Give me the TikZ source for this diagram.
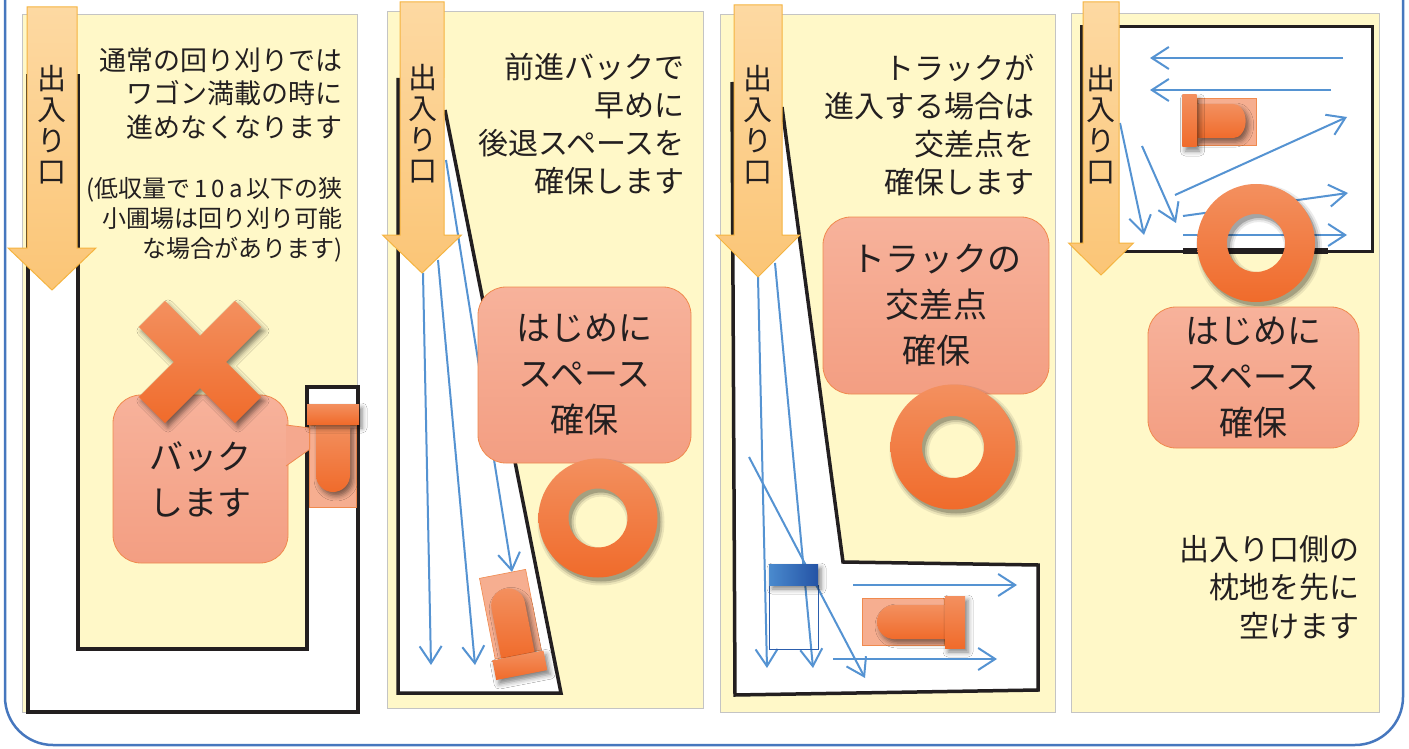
\documentclass[tikz,border=0pt]{standalone}
\usepackage{fontspec}
\setmainfont{Noto Sans CJK JP}
\usetikzlibrary{arrows.meta,shadows.blur}

\definecolor{ink}{HTML}{231F20}
\definecolor{fieldbg}{HTML}{FFF8C8}
\definecolor{panelline}{HTML}{C4C4C4}
\definecolor{frameblue}{HTML}{4677BE}
\definecolor{routeblue}{HTML}{5593D2}
\definecolor{gatetop}{HTML}{FDD9A2}
\definecolor{gatebot}{HTML}{FBC576}
\definecolor{gateline}{HTML}{F5B440}
\definecolor{marktop}{HTML}{F3905F}
\definecolor{markbot}{HTML}{F06B2B}
\definecolor{bubtop}{HTML}{F7B29B}
\definecolor{bubbot}{HTML}{F39E82}
\definecolor{bubline}{HTML}{F08A4E}
\definecolor{glassfill}{HTML}{F5A07D}
\definecolor{cableft}{HTML}{4A8ACE}
\definecolor{cabright}{HTML}{2453A5}

\tikzset{
  badge/.style={top color=marktop, bottom color=markbot,
    blur shadow={shadow xshift=3pt, shadow yshift=-4pt, shadow blur radius=5pt, shadow opacity=50}},
  gatearrow/.style={draw=gateline, line width=1pt, top color=gatetop, bottom color=gatebot},
  % combine harvester seen from above, header pointing up
  pics/combine/.style={code={
    \path[fill=glassfill, draw=bubline, line width=.6pt, fill opacity=.85] (-24,-30) rectangle (23,52);
    \path[badge] (-17,-31) -- (-17,20) arc[start angle=180, end angle=360, radius=17pt] -- (17,-31) -- cycle;
    \path[badge] (-26,-51) rectangle (26,-31);
  }},
  % orange ring with a soft shadow: outer radius, inner radius
  pics/ring/.style 2 args={code={
    \foreach \d/\o in {4/.08, 2/.12, 0/.2}
      \fill[black, opacity=\o, even odd rule] (3,4) circle[radius=#1+\d] (3,4) circle[radius=#2-\d];
    \path[top color=marktop, bottom color=markbot, even odd rule] (0,0) circle[radius=#1] (0,0) circle[radius=#2];
  }},
  % block arrow for the field entrance: half shaft, half head, shaft end, tip
  pics/entry/.style n args={4}{code={
    \path[gatearrow] (-#1,0) -- (-#1,#3) -- (-#2,#3) -- (0,#4) -- (#2,#3) -- (#1,#3) -- (#1,0) -- cycle;
  }}
}

\begin{document}
\begin{tikzpicture}[
  x=1pt, y=-1pt,
  panel/.style={fill=fieldbg, draw=panelline, line width=1pt},
  field/.style={draw=ink, line width=3.5pt, line join=miter},
  route/.style={draw=routeblue, line width=2pt, -{Straight Barb[length=17pt, width=22pt]}},
  note/.style={font=\fontsize{30}{38.3}\selectfont, text=ink, align=right, anchor=east, inner sep=0pt},
  bubble/.style={draw=bubline, line width=.8pt, top color=bubtop, bottom color=bubbot, rounded corners=28pt,
    text=ink, align=center, font=\fontsize{34}{46}\selectfont, inner sep=0pt},
  gate/.style={text=ink, align=center, font=\fontsize{29}{31}\selectfont, inner sep=0pt}
]
\path[use as bounding box, clip] (0,0) rectangle (1409,749);
\fill[white] (0,0) rectangle (1409,749);
\draw[frameblue, line width=2.5pt, rounded corners=48pt] (5,-60) rectangle (1403,745);

% four panels
\path[panel] (22,15) rectangle (357,712);
\path[panel] (387,12) rectangle (703,708);
\path[panel] (720,15) rectangle (1055,712);
\path[panel] (1071,14) rectangle (1379,712);

% ---- panel 1: going round the field
\fill[white] (28,74) -- (28,712) -- (358,712) -- (358,387) -- (307,387) -- (307,649) -- (78,649) -- (78,74) -- cycle;
\draw[field] (28,74) -- (28,712) -- (358,712) -- (358,387) -- (307,387) -- (307,649) -- (78,649) -- (78,74);
\node[bubble, minimum width=175pt, minimum height=168pt] (back) at (200.5,479) {バック\\します};
\path[fill=bubtop!50!bubbot, draw=bubline, line width=.8pt] (286,425) -- (310,428) -- (310,449) -- (286,466);
\pic at (333,455) {combine};
\begin{scope}[shift={(200,362)}]
  \path[badge] (61.2,35) -- (26.2,0) -- (61.2,-35) -- (35,-61.2) -- (0,-26.2) -- (-35,-61.2)
    -- (-61.2,-35) -- (-26.2,0) -- (-61.2,35) -- (-35,61.2) -- (0,26.2) -- (35,61.2) -- cycle;
\end{scope}
\pic at (52,7) {entry={25}{44}{241}{283}};
\node[gate] (gate1) at (52,125) {出\\入\\り\\口};
\node[note, font=\fontsize{27}{33.3}\selectfont] (note1) at (343,93.5) {通常の回り刈りでは\\ワゴン満載の時に\\進めなくなります};
\node[note, font=\fontsize{24}{30}\selectfont] (note1b) at (343,220) {(低収量で\,1\,0\,a\,以下の狭\\小圃場は回り刈り可能\\な場合があります)};

% ---- panel 2: forward and back along the edge
\fill[white] (398,78) -- (398,693) -- (561,693) -- (445,110) -- (445,78) -- cycle;
\draw[field] (398,78) -- (398,693) -- (561,693) -- (445,110);
\draw[route] (423,273) -- (431,665);
\draw[route] (438,260) -- (475,665);
\draw[route] (446,160) -- (512,572);
\pic[rotate=191] at (512,625) {combine};
\node[bubble, minimum width=213pt, minimum height=176pt] (space2) at (584.5,375) {はじめに\\スペース\\確保};
\pic at (598,518) {ring={59.5}{29.5}};
\pic at (422,2) {entry={22}{39.5}{233}{271}};
\node[gate] (gate2) at (423,124) {出\\入\\り\\口};
\node[note] (note2) at (685,124) {前進バックで\\早めに\\後退スペースを\\確保します};

% ---- panel 3: crossing point for the truck
\fill[white] (732,82) -- (735,695) -- (1038,690) -- (1038,565) -- (843,562) -- (782,107) -- (782,82) -- cycle;
\draw[field] (732,82) -- (735,695) -- (1038,690) -- (1038,565) -- (843,562) -- (782,107);
\draw[route] (758,277) -- (767,668);
\draw[route] (775,263) -- (813,668);
\draw[route] (749,457) -- (865,678);
\draw[route] (853,585) -- (1017,585);
\draw[route] (833,659) -- (997,659);
\draw[cabright!80!cableft, line width=1pt] (769,585) rectangle (818,649);
\path[left color=cableft, right color=cabright,
  blur shadow={shadow xshift=3pt, shadow yshift=-4pt, shadow blur radius=5pt, shadow opacity=50}] (769,564) rectangle (818,585);
\pic[rotate=-90] at (914,622) {combine};
\node[bubble, minimum width=226pt, minimum height=177pt] (cross3) at (936,305.5) {トラックの\\交差点\\確保};
\pic at (953,447) {ring={62.5}{31}};
\pic at (758,5) {entry={24}{42}{230}{272}};
\node[gate] (gate3) at (758,125) {出\\入\\り\\口};
\node[note] (note3) at (1035,125) {トラックが\\進入する場合は\\交差点を\\確保します};

% ---- panel 4: open the headland by the entrance first
\fill[white] (1081,27) rectangle (1372,251);
\draw[field, line width=3pt] (1081,27) rectangle (1372,251);
\draw[ink, line width=6pt] (1183,251) -- (1328,251);
\draw[route] (1343,58) -- (1150,58);
\draw[route] (1331,90) -- (1150,90);
\draw[route] (1175,195) -- (1347,117);
\draw[route] (1183,216) -- (1348,193);
\draw[route] (1183,235) -- (1347,235);
\draw[route] (1120,123) -- (1144,235);
\draw[route] (1142,146) -- (1176,223);
\pic[rotate=90, yscale=.72] at (1219,121) {combine};
\pic at (1256,243) {ring={59}{29}};
\node[bubble, minimum width=211pt, minimum height=141pt] (space4) at (1253.5,377.5) {はじめに\\スペース\\確保};
\pic at (1101,2) {entry={18}{32.5}{241}{273}};
\node[gate] (gate4) at (1101,125) {出\\入\\り\\口};
\node[note, font=\fontsize{30}{38.5}\selectfont] (note4) at (1360,587) {出入り口側の\\枕地を先に\\空けます};
\end{tikzpicture}
\end{document}
